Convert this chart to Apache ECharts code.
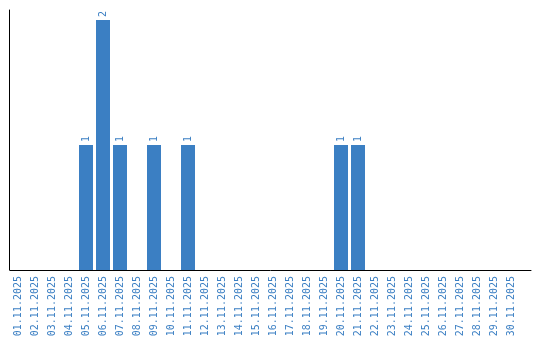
<!DOCTYPE html>
<html>
<head>
<meta charset="utf-8">
<script src="https://cdn.jsdelivr.net/npm/echarts@6/dist/echarts.min.js"></script>
<style>html,body{margin:0;padding:0;background:#fff}#c{width:540px;height:340px}</style>
</head>
<body>
<div id="c"></div>
<script>
const categories = ["01.11.2025","02.11.2025","03.11.2025","04.11.2025","05.11.2025","06.11.2025","07.11.2025","08.11.2025","09.11.2025","10.11.2025","11.11.2025","12.11.2025","13.11.2025","14.11.2025","15.11.2025","16.11.2025","17.11.2025","18.11.2025","19.11.2025","20.11.2025","21.11.2025","22.11.2025","23.11.2025","24.11.2025","25.11.2025","26.11.2025","27.11.2025","28.11.2025","29.11.2025","30.11.2025"];
const values = [0,0,0,0,1,2,1,0,1,0,1,0,0,0,0,0,0,0,0,1,1,0,0,0,0,0,0,0,0,0];

const blue = '#3b7fc3';
const font = "'DejaVu Sans Mono', monospace";
const chart = echarts.init(document.getElementById('c'), null, {renderer: 'canvas'});
chart.setOption({
  animation: false,
  grid: [
    {left: 9.5, width: 510, top: 10, bottom: 70},
    {left: 10, right: 9, top: 10, bottom: 70}
  ],
  xAxis: [
    {
      type: 'category', gridIndex: 0, data: categories,
      axisLine: {show: false}, axisTick: {show: false},
      axisLabel: {rotate: 90, interval: 0, color: blue, fontSize: 10, fontFamily: font, margin: 6}
    },
    {
      type: 'value', gridIndex: 1, min: 0, max: 1,
      axisLine: {show: true, onZero: false, lineStyle: {color: '#000', width: 1}},
      axisTick: {show: false}, axisLabel: {show: false}, splitLine: {show: false}
    }
  ],
  yAxis: [
    {
      type: 'value', gridIndex: 0, min: 0, max: 2.08,
      axisLine: {show: true, lineStyle: {color: '#000', width: 1}},
      axisTick: {show: false}, axisLabel: {show: false}, splitLine: {show: false}
    },
    {
      type: 'value', gridIndex: 1, min: 0, max: 1, show: false
    }
  ],
  series: [{
    type: 'bar', xAxisIndex: 0, yAxisIndex: 0,
    data: values.map(v => v === 0 ? null : v),
    barWidth: 14,
    itemStyle: {color: blue},
    label: {
      show: true, position: 'top', rotate: 90, distance: 3,
      align: 'left', verticalAlign: 'middle',
      color: blue, fontSize: 10, fontFamily: font
    }
  }]
});
</script>
</body>
</html>
